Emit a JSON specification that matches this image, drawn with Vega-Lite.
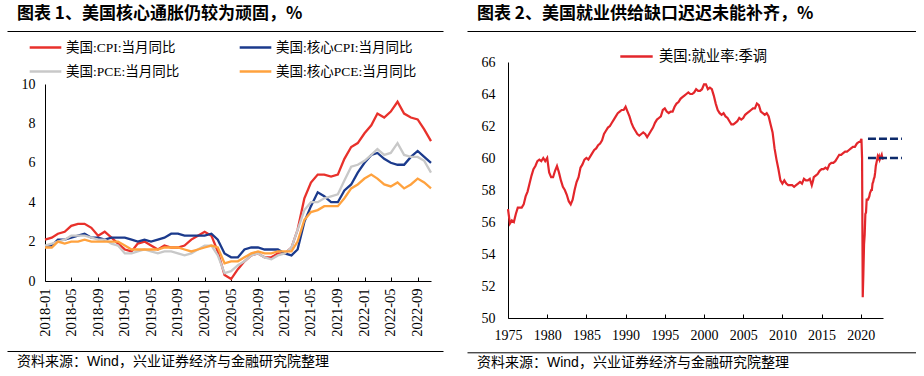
{
  "$schema": "https://vega.github.io/schema/vega-lite/v6.json",
  "background": "white",
  "padding": {"left": 7, "top": 5, "right": 0, "bottom": 0},
  "config": {
    "view": {"stroke": null},
    "font": "Liberation Serif",
    "axis": {"labelFont": "Liberation Serif, Noto Sans CJK SC", "labelFontSize": 14, "labelColor": "#000", "domainColor": "#000", "domainWidth": 1, "tickColor": "#000", "grid": false, "title": null},
    "legend": {"labelFont": "Liberation Serif, Noto Sans CJK SC", "labelFontSize": 13.5, "labelColor": "#000", "title": null}
  },
  "resolve": {"scale": {"color": "independent"}, "legend": {"color": "independent"}},
  "spacing": 24,
  "hconcat": [
    {
      "spacing": -2,
      "resolve": {"scale": {"color": "independent"}, "legend": {"color": "independent"}},
      "vconcat": [
        {
          "width": 436,
          "height": 0.01,
          "title": {"text": "图表 1、美国核心通胀仍较为顽固，%", "anchor": "start", "dx": 10, "offset": 8, "font": "Noto Sans CJK SC", "fontSize": 17, "fontWeight": "bold", "color": "#000"},
          "data": {"values": [{"u": 0.5}]},
          "mark": {"type": "point", "size": 0, "opacity": 0},
          "encoding": {"x": {"field": "u", "type": "quantitative", "scale": {"domain": [0, 1]}, "axis": {"orient": "top", "domain": true, "ticks": false, "labels": false, "grid": false, "title": null}}}
        },
        {
          "spacing": 7,
          "resolve": {"scale": {"color": "independent"}, "legend": {"color": "independent"}},
          "hconcat": [
            {"width": 0.01, "height": 0.01, "data": {"values": [{}]}, "mark": {"type": "point", "size": 0, "opacity": 0}},
            {
              "width": 386,
              "height": 197,
              "data": {"values": [
                {"date": "2018-01", "美国:CPI:当月同比": 2.1, "美国:核心CPI:当月同比": 1.8, "美国:PCE:当月同比": 1.8, "美国:核心PCE:当月同比": 1.7},
                {"date": "2018-02", "美国:CPI:当月同比": 2.2, "美国:核心CPI:当月同比": 1.8, "美国:PCE:当月同比": 1.9, "美国:核心PCE:当月同比": 1.7},
                {"date": "2018-03", "美国:CPI:当月同比": 2.4, "美国:核心CPI:当月同比": 2.1, "美国:PCE:当月同比": 2.0, "美国:核心PCE:当月同比": 2.0},
                {"date": "2018-04", "美国:CPI:当月同比": 2.5, "美国:核心CPI:当月同比": 2.1, "美国:PCE:当月同比": 2.1, "美国:核心PCE:当月同比": 1.9},
                {"date": "2018-05", "美国:CPI:当月同比": 2.8, "美国:核心CPI:当月同比": 2.2, "美国:PCE:当月同比": 2.3, "美国:核心PCE:当月同比": 2.0},
                {"date": "2018-06", "美国:CPI:当月同比": 2.9, "美国:核心CPI:当月同比": 2.3, "美国:PCE:当月同比": 2.3, "美国:核心PCE:当月同比": 2.0},
                {"date": "2018-07", "美国:CPI:当月同比": 2.9, "美国:核心CPI:当月同比": 2.4, "美国:PCE:当月同比": 2.3, "美国:核心PCE:当月同比": 2.1},
                {"date": "2018-08", "美国:CPI:当月同比": 2.7, "美国:核心CPI:当月同比": 2.2, "美国:PCE:当月同比": 2.2, "美国:核心PCE:当月同比": 2.0},
                {"date": "2018-09", "美国:CPI:当月同比": 2.3, "美国:核心CPI:当月同比": 2.2, "美国:PCE:当月同比": 2.1, "美国:核心PCE:当月同比": 2.0},
                {"date": "2018-10", "美国:CPI:当月同比": 2.5, "美国:核心CPI:当月同比": 2.1, "美国:PCE:当月同比": 2.1, "美国:核心PCE:当月同比": 2.0},
                {"date": "2018-11", "美国:CPI:当月同比": 2.2, "美国:核心CPI:当月同比": 2.2, "美国:PCE:当月同比": 1.9, "美国:核心PCE:当月同比": 2.0},
                {"date": "2018-12", "美国:CPI:当月同比": 1.9, "美国:核心CPI:当月同比": 2.2, "美国:PCE:当月同比": 1.8, "美国:核心PCE:当月同比": 2.0},
                {"date": "2019-01", "美国:CPI:当月同比": 1.6, "美国:核心CPI:当月同比": 2.2, "美国:PCE:当月同比": 1.4, "美国:核心PCE:当月同比": 1.8},
                {"date": "2019-02", "美国:CPI:当月同比": 1.5, "美国:核心CPI:当月同比": 2.1, "美国:PCE:当月同比": 1.4, "美国:核心PCE:当月同比": 1.6},
                {"date": "2019-03", "美国:CPI:当月同比": 1.9, "美国:核心CPI:当月同比": 2.0, "美国:PCE:当月同比": 1.5, "美国:核心PCE:当月同比": 1.6},
                {"date": "2019-04", "美国:CPI:当月同比": 2.0, "美国:核心CPI:当月同比": 2.1, "美国:PCE:当月同比": 1.6, "美国:核心PCE:当月同比": 1.6},
                {"date": "2019-05", "美国:CPI:当月同比": 1.8, "美国:核心CPI:当月同比": 2.0, "美国:PCE:当月同比": 1.5, "美国:核心PCE:当月同比": 1.6},
                {"date": "2019-06", "美国:CPI:当月同比": 1.6, "美国:核心CPI:当月同比": 2.1, "美国:PCE:当月同比": 1.4, "美国:核心PCE:当月同比": 1.6},
                {"date": "2019-07", "美国:CPI:当月同比": 1.8, "美国:核心CPI:当月同比": 2.2, "美国:PCE:当月同比": 1.5, "美国:核心PCE:当月同比": 1.7},
                {"date": "2019-08", "美国:CPI:当月同比": 1.7, "美国:核心CPI:当月同比": 2.4, "美国:PCE:当月同比": 1.5, "美国:核心PCE:当月同比": 1.7},
                {"date": "2019-09", "美国:CPI:当月同比": 1.7, "美国:核心CPI:当月同比": 2.4, "美国:PCE:当月同比": 1.4, "美国:核心PCE:当月同比": 1.7},
                {"date": "2019-10", "美国:CPI:当月同比": 1.8, "美国:核心CPI:当月同比": 2.3, "美国:PCE:当月同比": 1.3, "美国:核心PCE:当月同比": 1.6},
                {"date": "2019-11", "美国:CPI:当月同比": 2.1, "美国:核心CPI:当月同比": 2.3, "美国:PCE:当月同比": 1.4, "美国:核心PCE:当月同比": 1.5},
                {"date": "2019-12", "美国:CPI:当月同比": 2.3, "美国:核心CPI:当月同比": 2.3, "美国:PCE:当月同比": 1.6, "美国:核心PCE:当月同比": 1.6},
                {"date": "2020-01", "美国:CPI:当月同比": 2.5, "美国:核心CPI:当月同比": 2.3, "美国:PCE:当月同比": 1.8, "美国:核心PCE:当月同比": 1.7},
                {"date": "2020-02", "美国:CPI:当月同比": 2.3, "美国:核心CPI:当月同比": 2.4, "美国:PCE:当月同比": 1.8, "美国:核心PCE:当月同比": 1.8},
                {"date": "2020-03", "美国:CPI:当月同比": 1.5, "美国:核心CPI:当月同比": 2.1, "美国:PCE:当月同比": 1.3, "美国:核心PCE:当月同比": 1.7},
                {"date": "2020-04", "美国:CPI:当月同比": 0.3, "美国:核心CPI:当月同比": 1.4, "美国:PCE:当月同比": 0.4, "美国:核心PCE:当月同比": 0.9},
                {"date": "2020-05", "美国:CPI:当月同比": 0.1, "美国:核心CPI:当月同比": 1.2, "美国:PCE:当月同比": 0.5, "美国:核心PCE:当月同比": 1.0},
                {"date": "2020-06", "美国:CPI:当月同比": 0.6, "美国:核心CPI:当月同比": 1.2, "美国:PCE:当月同比": 0.8, "美国:核心PCE:当月同比": 1.0},
                {"date": "2020-07", "美国:CPI:当月同比": 1.0, "美国:核心CPI:当月同比": 1.6, "美国:PCE:当月同比": 1.0, "美国:核心PCE:当月同比": 1.2},
                {"date": "2020-08", "美国:CPI:当月同比": 1.3, "美国:核心CPI:当月同比": 1.7, "美国:PCE:当月同比": 1.3, "美国:核心PCE:当月同比": 1.4},
                {"date": "2020-09", "美国:CPI:当月同比": 1.4, "美国:核心CPI:当月同比": 1.7, "美国:PCE:当月同比": 1.4, "美国:核心PCE:当月同比": 1.5},
                {"date": "2020-10", "美国:CPI:当月同比": 1.2, "美国:核心CPI:当月同比": 1.6, "美国:PCE:当月同比": 1.2, "美国:核心PCE:当月同比": 1.4},
                {"date": "2020-11", "美国:CPI:当月同比": 1.2, "美国:核心CPI:当月同比": 1.6, "美国:PCE:当月同比": 1.1, "美国:核心PCE:当月同比": 1.4},
                {"date": "2020-12", "美国:CPI:当月同比": 1.4, "美国:核心CPI:当月同比": 1.6, "美国:PCE:当月同比": 1.3, "美国:核心PCE:当月同比": 1.5},
                {"date": "2021-01", "美国:CPI:当月同比": 1.4, "美国:核心CPI:当月同比": 1.4, "美国:PCE:当月同比": 1.4, "美国:核心PCE:当月同比": 1.5},
                {"date": "2021-02", "美国:CPI:当月同比": 1.7, "美国:核心CPI:当月同比": 1.3, "美国:PCE:当月同比": 1.7, "美国:核心PCE:当月同比": 1.5},
                {"date": "2021-03", "美国:CPI:当月同比": 2.6, "美国:核心CPI:当月同比": 1.6, "美国:PCE:当月同比": 2.6, "美国:核心PCE:当月同比": 2.0},
                {"date": "2021-04", "美国:CPI:当月同比": 4.2, "美国:核心CPI:当月同比": 3.0, "美国:PCE:当月同比": 3.6, "美国:核心PCE:当月同比": 3.1},
                {"date": "2021-05", "美国:CPI:当月同比": 5.0, "美国:核心CPI:当月同比": 3.8, "美国:PCE:当月同比": 4.0, "美国:核心PCE:当月同比": 3.5},
                {"date": "2021-06", "美国:CPI:当月同比": 5.4, "美国:核心CPI:当月同比": 4.5, "美国:PCE:当月同比": 4.0, "美国:核心PCE:当月同比": 3.6},
                {"date": "2021-07", "美国:CPI:当月同比": 5.4, "美国:核心CPI:当月同比": 4.3, "美国:PCE:当月同比": 4.2, "美国:核心PCE:当月同比": 3.8},
                {"date": "2021-08", "美国:CPI:当月同比": 5.3, "美国:核心CPI:当月同比": 4.0, "美国:PCE:当月同比": 4.3, "美国:核心PCE:当月同比": 3.8},
                {"date": "2021-09", "美国:CPI:当月同比": 5.4, "美国:核心CPI:当月同比": 4.0, "美国:PCE:当月同比": 4.4, "美国:核心PCE:当月同比": 3.8},
                {"date": "2021-10", "美国:CPI:当月同比": 6.2, "美国:核心CPI:当月同比": 4.6, "美国:PCE:当月同比": 5.1, "美国:核心PCE:当月同比": 4.2},
                {"date": "2021-11", "美国:CPI:当月同比": 6.8, "美国:核心CPI:当月同比": 4.9, "美国:PCE:当月同比": 5.8, "美国:核心PCE:当月同比": 4.7},
                {"date": "2021-12", "美国:CPI:当月同比": 7.0, "美国:核心CPI:当月同比": 5.5, "美国:PCE:当月同比": 5.9, "美国:核心PCE:当月同比": 4.9},
                {"date": "2022-01", "美国:CPI:当月同比": 7.5, "美国:核心CPI:当月同比": 6.0, "美国:PCE:当月同比": 6.1, "美国:核心PCE:当月同比": 5.2},
                {"date": "2022-02", "美国:CPI:当月同比": 7.9, "美国:核心CPI:当月同比": 6.4, "美国:PCE:当月同比": 6.4, "美国:核心PCE:当月同比": 5.4},
                {"date": "2022-03", "美国:CPI:当月同比": 8.5, "美国:核心CPI:当月同比": 6.5, "美国:PCE:当月同比": 6.7, "美国:核心PCE:当月同比": 5.2},
                {"date": "2022-04", "美国:CPI:当月同比": 8.3, "美国:核心CPI:当月同比": 6.2, "美国:PCE:当月同比": 6.4, "美国:核心PCE:当月同比": 4.9},
                {"date": "2022-05", "美国:CPI:当月同比": 8.6, "美国:核心CPI:当月同比": 6.0, "美国:PCE:当月同比": 6.5, "美国:核心PCE:当月同比": 4.8},
                {"date": "2022-06", "美国:CPI:当月同比": 9.1, "美国:核心CPI:当月同比": 5.9, "美国:PCE:当月同比": 7.0, "美国:核心PCE:当月同比": 5.0},
                {"date": "2022-07", "美国:CPI:当月同比": 8.5, "美国:核心CPI:当月同比": 5.9, "美国:PCE:当月同比": 6.4, "美国:核心PCE:当月同比": 4.7},
                {"date": "2022-08", "美国:CPI:当月同比": 8.3, "美国:核心CPI:当月同比": 6.3, "美国:PCE:当月同比": 6.3, "美国:核心PCE:当月同比": 4.9},
                {"date": "2022-09", "美国:CPI:当月同比": 8.2, "美国:核心CPI:当月同比": 6.6, "美国:PCE:当月同比": 6.3, "美国:核心PCE:当月同比": 5.2},
                {"date": "2022-10", "美国:CPI:当月同比": 7.7, "美国:核心CPI:当月同比": 6.3, "美国:PCE:当月同比": 6.1, "美国:核心PCE:当月同比": 5.0},
                {"date": "2022-11", "美国:CPI:当月同比": 7.1, "美国:核心CPI:当月同比": 6.0, "美国:PCE:当月同比": 5.5, "美国:核心PCE:当月同比": 4.7}
              ]},
              "transform": [{"fold": ["美国:CPI:当月同比", "美国:核心CPI:当月同比", "美国:PCE:当月同比", "美国:核心PCE:当月同比"], "as": ["series", "value"]}],
              "mark": {"type": "line", "strokeWidth": 2.3},
              "encoding": {
                "x": {"field": "date", "type": "temporal",
                  "scale": {"type": "utc", "domain": [{"year": 2018, "month": 1, "date": 1, "utc": true}, {"year": 2022, "month": 11, "date": 1, "utc": true}]},
                  "axis": {"values": [
                    {"year": 2018, "month": 1, "date": 1, "utc": true}, {"year": 2018, "month": 5, "date": 1, "utc": true}, {"year": 2018, "month": 9, "date": 1, "utc": true},
                    {"year": 2019, "month": 1, "date": 1, "utc": true}, {"year": 2019, "month": 5, "date": 1, "utc": true}, {"year": 2019, "month": 9, "date": 1, "utc": true},
                    {"year": 2020, "month": 1, "date": 1, "utc": true}, {"year": 2020, "month": 5, "date": 1, "utc": true}, {"year": 2020, "month": 9, "date": 1, "utc": true},
                    {"year": 2021, "month": 1, "date": 1, "utc": true}, {"year": 2021, "month": 5, "date": 1, "utc": true}, {"year": 2021, "month": 9, "date": 1, "utc": true},
                    {"year": 2022, "month": 1, "date": 1, "utc": true}, {"year": 2022, "month": 5, "date": 1, "utc": true}, {"year": 2022, "month": 9, "date": 1, "utc": true}
                  ], "labelExpr": "utcFormat(datum.value, '%Y-%m')", "labelAngle": -90, "labelFontSize": 14.5, "tickSize": -4, "labelPadding": 11, "labelFlush": false, "labelOverlap": false, "title": null}},
                "y": {"field": "value", "type": "quantitative", "scale": {"domain": [0, 10]},
                  "axis": {"values": [0, 2, 4, 6, 8, 10], "ticks": false, "labelPadding": 10, "labelOverlap": false, "minExtent": 30, "maxExtent": 30, "title": null}},
                "color": {"field": "series", "type": "nominal",
                  "scale": {"domain": ["美国:CPI:当月同比", "美国:核心CPI:当月同比", "美国:PCE:当月同比", "美国:核心PCE:当月同比"], "range": ["#E8312B", "#1B3A8C", "#C8C8C8", "#FFA23E"]},
                  "legend": {"orient": "none", "legendX": -17, "legendY": -54, "direction": "horizontal", "columns": 2, "columnPadding": 54, "rowPadding": -1, "symbolType": "stroke", "symbolSize": 1000, "symbolStrokeWidth": 2.5, "labelOffset": 3, "title": null}}
              }
            }
          ]
        },
        {
          "width": 436,
          "height": 14,
          "title": {"text": "资料来源：Wind，兴业证券经济与金融研究院整理", "orient": "bottom", "anchor": "start", "dx": 10, "offset": 4, "font": "Liberation Sans, Noto Sans CJK SC", "fontSize": 14, "fontWeight": "normal", "color": "#000"},
          "data": {"values": [{"u": 0.5}]},
          "mark": {"type": "point", "size": 0, "opacity": 0},
          "encoding": {"x": {"field": "u", "type": "quantitative", "scale": {"domain": [0, 1]}, "axis": {"orient": "bottom", "domain": true, "ticks": false, "labels": false, "grid": false, "title": null}}}
        }
      ]
    },
    {
      "spacing": 5,
      "resolve": {"scale": {"color": "independent"}, "legend": {"color": "independent"}},
      "vconcat": [
        {
          "width": 449,
          "height": 3,
          "title": {"text": "图表 2、美国就业供给缺口迟迟未能补齐，%", "anchor": "start", "dx": 10, "offset": 8, "font": "Noto Sans CJK SC", "fontSize": 17, "fontWeight": "bold", "color": "#000"},
          "data": {"values": [{"u": 0.5}]},
          "mark": {"type": "point", "size": 0, "opacity": 0},
          "encoding": {"x": {"field": "u", "type": "quantitative", "scale": {"domain": [0, 1]}, "axis": {"orient": "top", "domain": true, "ticks": false, "labels": false, "grid": false, "title": null}}}
        },
        {
          "spacing": 10,
          "resolve": {"scale": {"color": "independent"}, "legend": {"color": "independent"}},
          "hconcat": [
            {"width": 0.01, "height": 0.01, "data": {"values": [{}]}, "mark": {"type": "point", "size": 0, "opacity": 0}},
            {
              "width": 375,
              "height": 256,
              "encoding": {
                "x": {"field": "d", "type": "temporal",
                  "scale": {"type": "utc", "domain": [{"year": 1975, "month": 1, "date": 1, "utc": true}, {"year": 2022, "month": 11, "date": 1, "utc": true}]},
                  "axis": {"values": [
                    {"year": 1975, "month": 1, "date": 1, "utc": true}, {"year": 1980, "month": 1, "date": 1, "utc": true}, {"year": 1985, "month": 1, "date": 1, "utc": true},
                    {"year": 1990, "month": 1, "date": 1, "utc": true}, {"year": 1995, "month": 1, "date": 1, "utc": true}, {"year": 2000, "month": 1, "date": 1, "utc": true},
                    {"year": 2005, "month": 1, "date": 1, "utc": true}, {"year": 2010, "month": 1, "date": 1, "utc": true}, {"year": 2015, "month": 1, "date": 1, "utc": true},
                    {"year": 2020, "month": 1, "date": 1, "utc": true}
                  ], "labelExpr": "utcFormat(datum.value, '%Y')", "labelAngle": 0, "tickSize": -4, "labelPadding": 14, "labelFlush": false, "labelOverlap": false, "title": null}},
                "y": {"field": "rate", "type": "quantitative", "scale": {"domain": [50, 66]},
                  "axis": {"values": [50, 52, 54, 56, 58, 60, 62, 64, 66], "ticks": false, "labelPadding": 13, "labelOverlap": false, "labelSeparation": 0, "minExtent": 30, "maxExtent": 30, "title": null}}
              },
              "layer": [
                {
                  "data": {"values": [
                    {"d": "1975-01", "美国:就业率:季调": 56.8}, {"d": "1975-04", "美国:就业率:季调": 55.9}, {"d": "1975-07", "美国:就业率:季调": 56.1}, {"d": "1975-10", "美国:就业率:季调": 56.0},
                    {"d": "1976-01", "美国:就业率:季调": 56.5}, {"d": "1976-04", "美国:就业率:季调": 56.9}, {"d": "1976-07", "美国:就业率:季调": 56.9}, {"d": "1976-10", "美国:就业率:季调": 56.9},
                    {"d": "1977-01", "美国:就业率:季调": 57.1}, {"d": "1977-04", "美国:就业率:季调": 57.6}, {"d": "1977-07", "美国:就业率:季调": 57.9}, {"d": "1977-10", "美国:就业率:季调": 58.4},
                    {"d": "1978-01", "美国:就业率:季调": 58.9}, {"d": "1978-04", "美国:就业率:季调": 59.3}, {"d": "1978-07", "美国:就业率:季调": 59.5}, {"d": "1978-10", "美国:就业率:季调": 59.8},
                    {"d": "1979-01", "美国:就业率:季调": 59.9}, {"d": "1979-04", "美国:就业率:季调": 59.8}, {"d": "1979-07", "美国:就业率:季调": 60.0}, {"d": "1979-10", "美国:就业率:季调": 59.8},
                    {"d": "1980-01", "美国:就业率:季调": 60.0}, {"d": "1980-04", "美国:就业率:季调": 59.1}, {"d": "1980-07", "美国:就业率:季调": 58.8}, {"d": "1980-10", "美国:就业率:季调": 58.8},
                    {"d": "1981-01", "美国:就业率:季调": 59.2}, {"d": "1981-04", "美国:就业率:季调": 59.5}, {"d": "1981-07", "美国:就业率:季调": 59.1}, {"d": "1981-10", "美国:就业率:季调": 58.6},
                    {"d": "1982-01", "美国:就业率:季调": 58.2}, {"d": "1982-04", "美国:就业率:季调": 58.0}, {"d": "1982-07", "美国:就业率:季调": 57.7}, {"d": "1982-10", "美国:就业率:季调": 57.3},
                    {"d": "1983-01", "美国:就业率:季调": 57.1}, {"d": "1983-04", "美国:就业率:季调": 57.4}, {"d": "1983-07", "美国:就业率:季调": 58.0}, {"d": "1983-10", "美国:就业率:季调": 58.5},
                    {"d": "1984-01", "美国:就业率:季调": 58.8}, {"d": "1984-04", "美国:就业率:季调": 59.4}, {"d": "1984-07", "美国:就业率:季调": 59.6}, {"d": "1984-10", "美国:就业率:季调": 59.9},
                    {"d": "1985-01", "美国:就业率:季调": 60.0}, {"d": "1985-04", "美国:就业率:季调": 59.9}, {"d": "1985-07", "美国:就业率:季调": 60.1}, {"d": "1985-10", "美国:就业率:季调": 60.3},
                    {"d": "1986-01", "美国:就业率:季调": 60.5}, {"d": "1986-04", "美国:就业率:季调": 60.6}, {"d": "1986-07", "美国:就业率:季调": 60.8}, {"d": "1986-10", "美国:就业率:季调": 60.9},
                    {"d": "1987-01", "美国:就业率:季调": 61.1}, {"d": "1987-04", "美国:就业率:季调": 61.5}, {"d": "1987-07", "美国:就业率:季调": 61.7}, {"d": "1987-10", "美国:就业率:季调": 61.9},
                    {"d": "1988-01", "美国:就业率:季调": 62.0}, {"d": "1988-04", "美国:就业率:季调": 62.2}, {"d": "1988-07", "美国:就业率:季调": 62.4}, {"d": "1988-10", "美国:就业率:季调": 62.6},
                    {"d": "1989-01", "美国:就业率:季调": 62.8}, {"d": "1989-04", "美国:就业率:季调": 62.9}, {"d": "1989-07", "美国:就业率:季调": 63.0}, {"d": "1989-10", "美国:就业率:季调": 63.0},
                    {"d": "1990-01", "美国:就业率:季调": 63.2}, {"d": "1990-04", "美国:就业率:季调": 62.9}, {"d": "1990-07", "美国:就业率:季调": 62.6}, {"d": "1990-10", "美国:就业率:季调": 62.2},
                    {"d": "1991-01", "美国:就业率:季调": 61.9}, {"d": "1991-04", "美国:就业率:季调": 61.7}, {"d": "1991-07", "美国:就业率:季调": 61.5}, {"d": "1991-10", "美国:就业率:季调": 61.4},
                    {"d": "1992-01", "美国:就业率:季调": 61.5}, {"d": "1992-04", "美国:就业率:季调": 61.6}, {"d": "1992-07", "美国:就业率:季调": 61.5}, {"d": "1992-10", "美国:就业率:季调": 61.3},
                    {"d": "1993-01", "美国:就业率:季调": 61.5}, {"d": "1993-04", "美国:就业率:季调": 61.7}, {"d": "1993-07", "美国:就业率:季调": 61.9}, {"d": "1993-10", "美国:就业率:季调": 62.2},
                    {"d": "1994-01", "美国:就业率:季调": 62.4}, {"d": "1994-04", "美国:就业率:季调": 62.5}, {"d": "1994-07", "美国:就业率:季调": 62.6}, {"d": "1994-10", "美国:就业率:季调": 63.0},
                    {"d": "1995-01", "美国:就业率:季调": 63.1}, {"d": "1995-04", "美国:就业率:季调": 62.9}, {"d": "1995-07", "美国:就业率:季调": 62.8}, {"d": "1995-10", "美国:就业率:季调": 62.9},
                    {"d": "1996-01", "美国:就业率:季调": 62.9}, {"d": "1996-04", "美国:就业率:季调": 63.2}, {"d": "1996-07", "美国:就业率:季调": 63.4}, {"d": "1996-10", "美国:就业率:季调": 63.5},
                    {"d": "1997-01", "美国:就业率:季调": 63.7}, {"d": "1997-04", "美国:就业率:季调": 63.8}, {"d": "1997-07", "美国:就业率:季调": 63.9}, {"d": "1997-10", "美国:就业率:季调": 64.0},
                    {"d": "1998-01", "美国:就业率:季调": 64.1}, {"d": "1998-04", "美国:就业率:季调": 64.0}, {"d": "1998-07", "美国:就业率:季调": 64.0}, {"d": "1998-10", "美国:就业率:季调": 64.1},
                    {"d": "1999-01", "美国:就业率:季调": 64.3}, {"d": "1999-04", "美国:就业率:季调": 64.2}, {"d": "1999-07", "美国:就业率:季调": 64.2}, {"d": "1999-10", "美国:就业率:季调": 64.3},
                    {"d": "2000-01", "美国:就业率:季调": 64.6}, {"d": "2000-04", "美国:就业率:季调": 64.6}, {"d": "2000-07", "美国:就业率:季调": 64.3}, {"d": "2000-10", "美国:就业率:季调": 64.4},
                    {"d": "2001-01", "美国:就业率:季调": 64.3}, {"d": "2001-04", "美国:就业率:季调": 63.9}, {"d": "2001-07", "美国:就业率:季调": 63.4}, {"d": "2001-10", "美国:就业率:季调": 63.0},
                    {"d": "2002-01", "美国:就业率:季调": 62.8}, {"d": "2002-04", "美国:就业率:季调": 62.7}, {"d": "2002-07", "美国:就业率:季调": 62.8}, {"d": "2002-10", "美国:就业率:季调": 62.6},
                    {"d": "2003-01", "美国:就业率:季调": 62.5}, {"d": "2003-04", "美国:就业率:季调": 62.3}, {"d": "2003-07", "美国:就业率:季调": 62.1}, {"d": "2003-10", "美国:就业率:季调": 62.1},
                    {"d": "2004-01", "美国:就业率:季调": 62.2}, {"d": "2004-04", "美国:就业率:季调": 62.3}, {"d": "2004-07", "美国:就业率:季调": 62.5}, {"d": "2004-10", "美国:就业率:季调": 62.4},
                    {"d": "2005-01", "美国:就业率:季调": 62.5}, {"d": "2005-04", "美国:就业率:季调": 62.7}, {"d": "2005-07", "美国:就业率:季调": 62.8}, {"d": "2005-10", "美国:就业率:季调": 62.9},
                    {"d": "2006-01", "美国:就业率:季调": 63.0}, {"d": "2006-04", "美国:就业率:季调": 63.1}, {"d": "2006-07", "美国:就业率:季调": 63.1}, {"d": "2006-10", "美国:就业率:季调": 63.4},
                    {"d": "2007-01", "美国:就业率:季调": 63.3}, {"d": "2007-04", "美国:就业率:季调": 62.9}, {"d": "2007-07", "美国:就业率:季调": 62.8}, {"d": "2007-10", "美国:就业率:季调": 62.7},
                    {"d": "2008-01", "美国:就业率:季调": 62.8}, {"d": "2008-04", "美国:就业率:季调": 62.6}, {"d": "2008-07", "美国:就业率:季调": 62.1}, {"d": "2008-10", "美国:就业率:季调": 61.6},
                    {"d": "2009-01", "美国:就业率:季调": 60.6}, {"d": "2009-04", "美国:就业率:季调": 59.9}, {"d": "2009-07", "美国:就业率:季调": 59.3}, {"d": "2009-10", "美国:就业率:季调": 58.6},
                    {"d": "2010-01", "美国:就业率:季调": 58.4}, {"d": "2010-04", "美国:就业率:季调": 58.6}, {"d": "2010-07", "美国:就业率:季调": 58.4}, {"d": "2010-10", "美国:就业率:季调": 58.3},
                    {"d": "2011-01", "美国:就业率:季调": 58.3}, {"d": "2011-04", "美国:就业率:季调": 58.3}, {"d": "2011-07", "美国:就业率:季调": 58.2}, {"d": "2011-10", "美国:就业率:季调": 58.3},
                    {"d": "2012-01", "美国:就业率:季调": 58.4}, {"d": "2012-04", "美国:就业率:季调": 58.5}, {"d": "2012-07", "美国:就业率:季调": 58.4}, {"d": "2012-10", "美国:就业率:季调": 58.7},
                    {"d": "2013-01", "美国:就业率:季调": 58.6}, {"d": "2013-04", "美国:就业率:季调": 58.6}, {"d": "2013-07", "美国:就业率:季调": 58.7}, {"d": "2013-10", "美国:就业率:季调": 58.3},
                    {"d": "2013-12", "美国:就业率:季调": 58.6},
                    {"d": "2014-01", "美国:就业率:季调": 58.8}, {"d": "2014-04", "美国:就业率:季调": 58.9}, {"d": "2014-07", "美国:就业率:季调": 59.0}, {"d": "2014-10", "美国:就业率:季调": 59.2},
                    {"d": "2015-01", "美国:就业率:季调": 59.3}, {"d": "2015-04", "美国:就业率:季调": 59.3}, {"d": "2015-07", "美国:就业率:季调": 59.4}, {"d": "2015-10", "美国:就业率:季调": 59.3},
                    {"d": "2016-01", "美国:就业率:季调": 59.6}, {"d": "2016-04", "美国:就业率:季调": 59.7}, {"d": "2016-07", "美国:就业率:季调": 59.7}, {"d": "2016-10", "美国:就业率:季调": 59.8},
                    {"d": "2017-01", "美国:就业率:季调": 60.0}, {"d": "2017-04", "美国:就业率:季调": 60.2}, {"d": "2017-07", "美国:就业率:季调": 60.2}, {"d": "2017-10", "美国:就业率:季调": 60.3},
                    {"d": "2018-01", "美国:就业率:季调": 60.4}, {"d": "2018-04", "美国:就业率:季调": 60.4}, {"d": "2018-07", "美国:就业率:季调": 60.5}, {"d": "2018-10", "美国:就业率:季调": 60.6},
                    {"d": "2019-01", "美国:就业率:季调": 60.7}, {"d": "2019-04", "美国:就业率:季调": 60.7}, {"d": "2019-07", "美国:就业率:季调": 60.9}, {"d": "2019-10", "美国:就业率:季调": 61.0},
                    {"d": "2019-12", "美国:就业率:季调": 61.0},
                    {"d": "2020-01", "美国:就业率:季调": 61.1}, {"d": "2020-02", "美国:就业率:季调": 61.2}, {"d": "2020-03", "美国:就业率:季调": 60.0}, {"d": "2020-04", "美国:就业率:季调": 51.3},
                    {"d": "2020-05", "美国:就业率:季调": 52.8}, {"d": "2020-06", "美国:就业率:季调": 54.6}, {"d": "2020-07", "美国:就业率:季调": 55.2}, {"d": "2020-08", "美国:就业率:季调": 56.5},
                    {"d": "2020-09", "美国:就业率:季调": 56.6}, {"d": "2020-10", "美国:就业率:季调": 57.4}, {"d": "2020-11", "美国:就业率:季调": 57.4}, {"d": "2020-12", "美国:就业率:季调": 57.4},
                    {"d": "2021-01", "美国:就业率:季调": 57.5}, {"d": "2021-02", "美国:就业率:季调": 57.6}, {"d": "2021-03", "美国:就业率:季调": 57.8}, {"d": "2021-04", "美国:就业率:季调": 57.9},
                    {"d": "2021-05", "美国:就业率:季调": 58.0}, {"d": "2021-06", "美国:就业率:季调": 58.0}, {"d": "2021-07", "美国:就业率:季调": 58.4}, {"d": "2021-08", "美国:就业率:季调": 58.5},
                    {"d": "2021-09", "美国:就业率:季调": 58.7}, {"d": "2021-10", "美国:就业率:季调": 58.8}, {"d": "2021-11", "美国:就业率:季调": 59.1}, {"d": "2021-12", "美国:就业率:季调": 59.5},
                    {"d": "2022-01", "美国:就业率:季调": 59.7}, {"d": "2022-02", "美国:就业率:季调": 59.9}, {"d": "2022-03", "美国:就业率:季调": 60.1}, {"d": "2022-04", "美国:就业率:季调": 60.0},
                    {"d": "2022-05", "美国:就业率:季调": 60.1}, {"d": "2022-06", "美国:就业率:季调": 59.9}, {"d": "2022-07", "美国:就业率:季调": 60.0}, {"d": "2022-08", "美国:就业率:季调": 60.1},
                    {"d": "2022-09", "美国:就业率:季调": 60.2}, {"d": "2022-10", "美国:就业率:季调": 60.0}, {"d": "2022-11", "美国:就业率:季调": 59.9}
                  ]},
                  "transform": [{"fold": ["美国:就业率:季调"], "as": ["series", "rate"]}],
                  "mark": {"type": "line", "strokeWidth": 2.2},
                  "encoding": {
                    "color": {"field": "series", "type": "nominal",
                      "scale": {"domain": ["美国:就业率:季调"], "range": ["#E3262B"]},
                      "legend": {"orient": "none", "legendX": 111, "legendY": -23, "symbolType": "stroke", "symbolSize": 1050, "symbolStrokeWidth": 2.5, "labelOffset": 5, "labelFontSize": 14.3, "title": null}}
                  }
                },
                {
                  "data": {"values": [
                    {"rate": 61.2, "d": "2020-12", "d_end": "2025-04"},
                    {"rate": 60.0, "d": "2020-12", "d_end": "2025-04"}
                  ]},
                  "mark": {"type": "rule", "color": "#0D2A6B", "strokeWidth": 2.5, "strokeDash": [8, 3]},
                  "encoding": {
                    "x2": {"field": "d_end"}
                  }
                }
              ]
            }
          ]
        },
        {
          "width": 449,
          "height": 5.3,
          "title": {"text": "资料来源：Wind，兴业证券经济与金融研究院整理", "orient": "bottom", "anchor": "start", "dx": 10, "offset": 4, "font": "Liberation Sans, Noto Sans CJK SC", "fontSize": 14, "fontWeight": "normal", "color": "#000"},
          "data": {"values": [{"u": 0.5}]},
          "mark": {"type": "point", "size": 0, "opacity": 0},
          "encoding": {"x": {"field": "u", "type": "quantitative", "scale": {"domain": [0, 1]}, "axis": {"orient": "bottom", "domain": true, "ticks": false, "labels": false, "grid": false, "title": null}}}
        }
      ]
    }
  ]
}
